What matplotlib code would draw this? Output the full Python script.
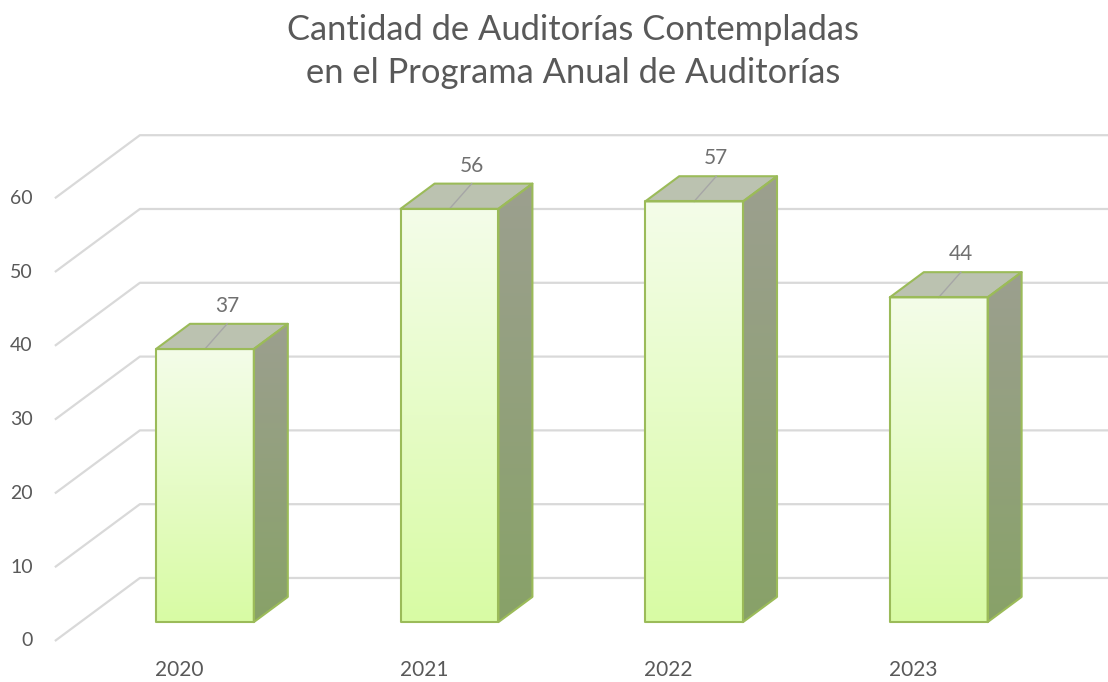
import numpy as np
import matplotlib
matplotlib.use("Agg")
import matplotlib.pyplot as plt
from matplotlib.patches import Polygon
from matplotlib.colors import LinearSegmentedColormap

# ---- data ----
categories = ["2020", "2021", "2022", "2023"]
values = [37, 56, 57, 44]
y_ticks = [0, 10, 20, 30, 40, 50, 60]
title_lines = ["Cantidad de Auditorías Contempladas",
               "en el Programa Anual de Auditorías"]

# ---- style ----
FONT = "Lato"
TXT = "#595959"
LBL = "#707070"
GRID = "#D9D9D9"
EDGE = "#9BBB59"
TOP = "#BBC2B0"
LEADER = "#A6A6A6"
front_cmap = LinearSegmentedColormap.from_list("f", ["#D8FBA4", "#F4FDE9"])
side_cmap = LinearSegmentedColormap.from_list("s", ["#88A268", "#9C9F8F"])

W, H = 1108, 682
fig = plt.figure(figsize=(W / 100, H / 100), dpi=100)
ax = fig.add_axes([0, 0, 1, 1])
ax.axis("off")

# oblique depth vector in data units (per full depth of the plot box)
DX, DY = 0.3475, 8.54
XMIN, XMAX = -0.7334, 3.7964
YMIN, YMAX = -5.556, 86.86
FLOOR_LEFT = -0.509
HW = 0.2          # half bar width (category units)
D0, D1 = 0.3, 0.7  # bar depth span
LABEL_SHIFT = 0.195


def P(x, v, d):
    return (x + DX * d, v + DY * d)


# gridlines: side diagonal + back wall
for t in y_ticks:
    a = P(FLOOR_LEFT, t, 0)
    b = P(FLOOR_LEFT, t, 1)
    ax.plot([a[0], b[0], XMAX], [a[1], b[1], b[1]], color=GRID, lw=1.6,
            solid_capstyle="butt", zorder=1)
    ax.annotate(str(t), a, xytext=(-16, 0), textcoords="offset points",
                ha="right", va="center", fontsize=14, color=TXT, family=FONT)

grad = np.linspace(0, 1, 256).reshape(-1, 1)

for i, (cat, v) in enumerate(zip(categories, values)):
    z = 2 + i
    front = [P(i - HW, 0, D0), P(i + HW, 0, D0), P(i + HW, v, D0), P(i - HW, v, D0)]
    side = [P(i + HW, 0, D0), P(i + HW, 0, D1), P(i + HW, v, D1), P(i + HW, v, D0)]
    top = [P(i - HW, v, D0), P(i + HW, v, D0), P(i + HW, v, D1), P(i - HW, v, D1)]

    for poly, cmap in ((front, front_cmap), (side, side_cmap)):
        xs = [p[0] for p in poly]
        ys = [p[1] for p in poly]
        im = ax.imshow(grad, cmap=cmap, origin="lower", aspect="auto",
                       extent=[min(xs), max(xs), min(ys), max(ys)], zorder=z)
        pp = Polygon(poly, closed=True, fc="none", ec="none", transform=ax.transData)
        ax.add_patch(pp)
        im.set_clip_path(pp)
        ax.add_patch(Polygon(poly, closed=True, fc="none", ec=EDGE, lw=1.5,
                             joinstyle="round", zorder=z + 0.3))
    ax.add_patch(Polygon(top, closed=True, fc=TOP, ec=EDGE, lw=1.5,
                         joinstyle="round", zorder=z + 0.2))
    # leader line on the top face
    lx = i + LABEL_SHIFT
    f = P(i, v, D0)
    ax.plot([f[0], lx], [f[1], v + DY * D1], color=LEADER, lw=1.0, zorder=z + 0.25)
    ax.annotate(str(v), (lx, v + DY * D1), xytext=(0, 13), textcoords="offset points",
                ha="center", va="center", fontsize=15, color=LBL, family=FONT)
    # category label
    ax.annotate(cat, P(i, 0, 0), xytext=(0, -21), textcoords="offset points",
                ha="center", va="center", fontsize=15, color=TXT, family=FONT)

ax.set_xlim(XMIN, XMAX)
ax.set_ylim(YMIN, YMAX)

fig.text(573 / W, 1 - 30 / H, title_lines[0], ha="center", va="center",
         fontsize=24.8, color=TXT, family=FONT)
fig.text(573 / W, 1 - 73 / H, title_lines[1], ha="center", va="center",
         fontsize=24.8, color=TXT, family=FONT)

fig.savefig("out.png", dpi=100)
